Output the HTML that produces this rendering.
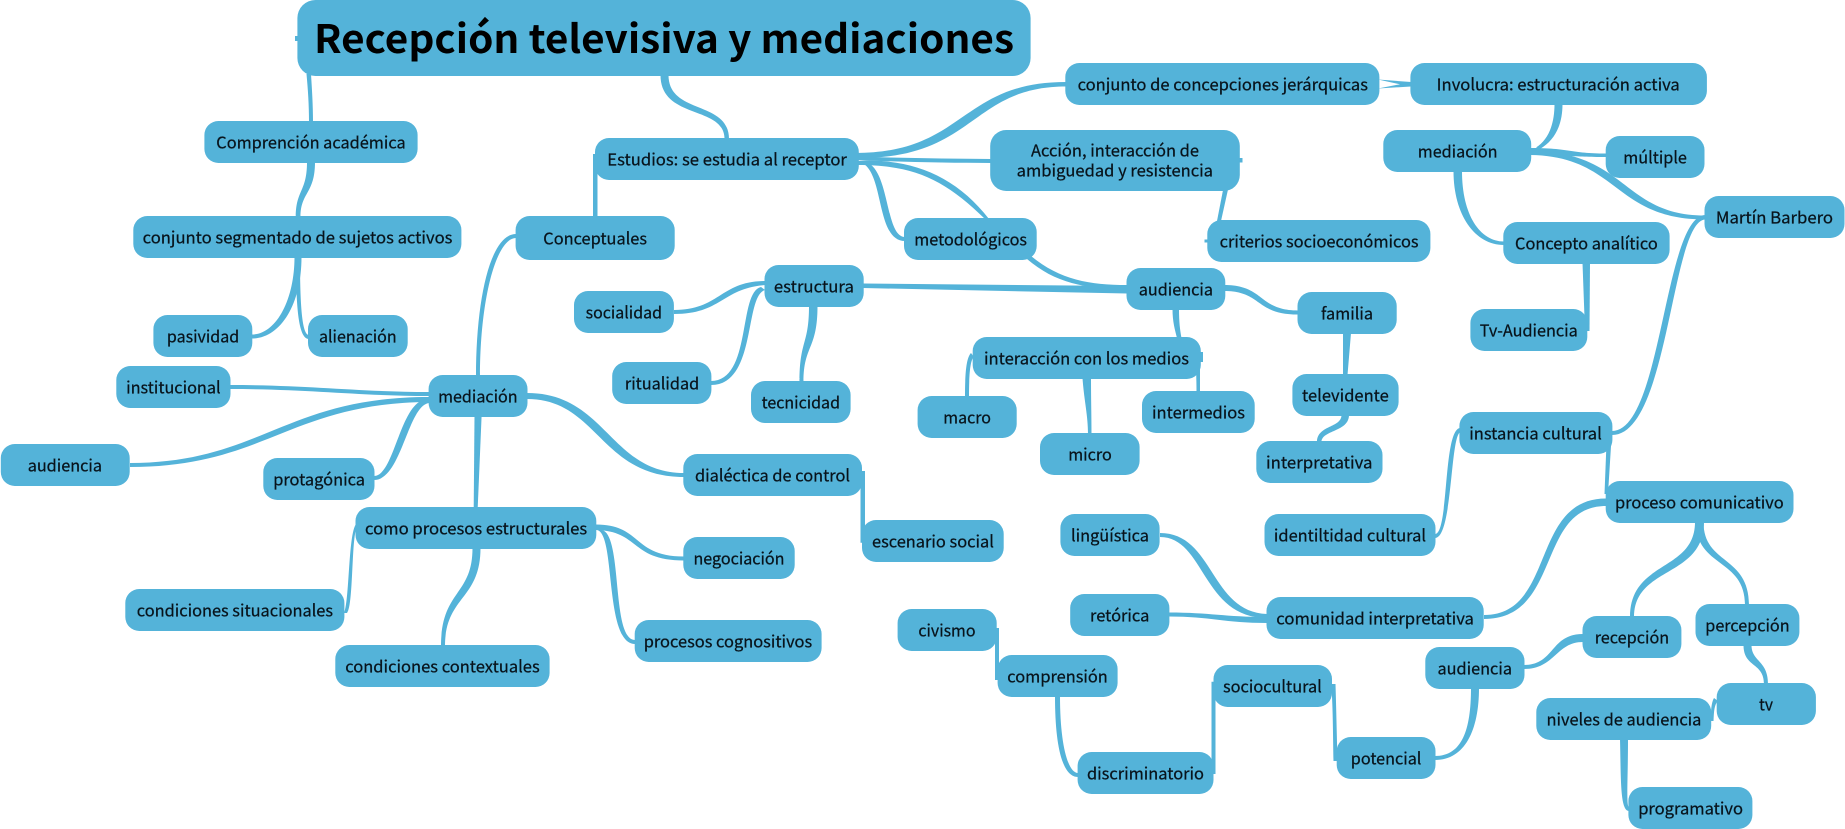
<!DOCTYPE html>
<html lang="es"><head><meta charset="utf-8"><title>Recepción televisiva y mediaciones</title>
<style>
html,body{margin:0;padding:0;background:#fff;width:1845px;height:829px;overflow:hidden}
svg{display:block}
.l{fill:#54b3d9}
rect{fill:#54b3d9}
text{font-family:"Noto Sans CJK JP","DejaVu Sans",sans-serif;font-size:16.5px;fill:#08131b;stroke:#08131b;stroke-width:.25px}
.t{font-size:39px;font-weight:bold;fill:#000;stroke:none}
</style></head><body>
<svg xmlns="http://www.w3.org/2000/svg" width="1845" height="829" viewBox="0 0 1845 829">
<g class="l">
<path d="M306.5,74C308,90 309,105 309,122L313,122C313,105 312,90 311,74Z"/>
<path d="M307,162C307,192 295.8,190 295.8,217L300.5,217C300.5,192 315,194 315,162Z"/>
<path d="M301.5,257C301.5,305 280,338.5 252,338.5L252,334.5C276,334.5 294.5,300 294.5,257Z"/>
<path d="M296,257C296,305 298,339 309,339L309,335C302,335 300,305 300,257Z"/>
<path d="M476,376C476,300 490,234 516,234L516,238C496,238 480,300 480,376Z"/>
<path d="M593,154H597.5V217H593Z"/>
<path d="M660.5,75C660.5,120 724.5,105 724.5,139L729,139C729,100 668.5,115 668.5,75Z"/>
<path d="M855,153C965,153 960,82 1066,82L1066,86.5C970,86.5 975,160 855,158Z"/>
<path d="M855,156.5C900,158 950,158.5 991,159L991,163C950,163 900,162 855,160Z"/>
<path d="M858,161C910,158 955,175 989,219L985,219C945,180 915,165 858,165Z"/>
<path d="M860,162C885,170 875,241 905,241L905,237C885,237 890,170 866,162Z"/>
<path d="M1031,256C1060,280 1090,285 1127,285L1127,289C1085,289 1055,283 1027,259Z"/>
<path d="M863,283.5L1127,286L1127,293.5L863,288Z"/>
<path d="M1224,285C1265,285 1258,310.5 1298,310.5L1298,314.5C1255,314.5 1262,291 1224,291Z"/>
<path d="M1172.5,309C1172.5,322 1175,330 1177,338L1181.5,338C1180,330 1179,322 1179,309Z"/>
<path d="M766,281C720,281 720,310 674,310L674,314C722,314 722,288 766,285Z"/>
<path d="M761,287C738,292 752,381 711,381L711,385C757,385 744,296 765,290Z"/>
<path d="M809,306C809,345 799.5,340 799.5,382L803.5,382C803.5,345 817.5,350 817.5,306Z"/>
<path d="M971,353C966,358 965,375 965,397L969,397C969,375 970,360 974,357Z"/>
<path d="M1082.5,378C1084,400 1088,415 1088,434L1091.5,434C1091.5,415 1091,400 1091,378Z"/>
<path d="M1196,357C1196,370 1196.5,380 1196.5,392L1200,392C1200,380 1200,370 1200,357Z"/>
<path d="M1198,352H1203V362H1198Z"/>
<path d="M1224,185L1217,221L1221,221L1229,185Z"/>
<path d="M1204.5,239.5H1209V242.5H1204.5Z"/>
<path d="M1238,158H1242.5V162.5H1238Z"/>
<path d="M1378,79.5L1411,82L1411,86.5L1378,88.5L1400,84.3Z"/>
<path d="M1554.5,104C1554.5,125 1548,140 1536,147.5L1540,149C1555,140 1562.5,125 1562.5,104Z"/>
<path d="M1530,148C1570,148 1570,153.5 1606,153.5L1606,157C1570,157 1570,155 1530,154Z"/>
<path d="M1530,151C1627,151 1622,215.5 1705,215.5L1705,219.5C1614,219.5 1618,156 1530,155Z"/>
<path d="M1453.5,171C1453.5,215 1475,245 1504,245L1504,241.5C1480,241.5 1462,215 1462,171Z"/>
<path d="M1582.5,263L1585,331L1589.5,331L1590,263Z"/>
<path d="M1343,333L1343,375L1347.5,375L1351,333Z"/>
<path d="M1341.5,415C1341.5,428 1317,425 1317,442L1321.5,442C1321.5,430 1349,432 1349,415Z"/>
<path d="M1705,215C1664,217 1662,431 1612,431L1612,435C1669,435 1671,222 1705,219.5Z"/>
<path d="M1607,430L1604.5,494L1608,494L1612,430Z"/>
<path d="M1460,428C1443,430 1449,534 1435,534L1435,538C1453,538 1450,432 1461,432Z"/>
<path d="M1606,498.5C1530,498.5 1556,615 1484,615L1484,619C1562,619 1536,506 1606,506Z"/>
<path d="M1695,522C1695,572 1630,560 1630,617L1634,617C1634,566 1704,578 1704,522Z"/>
<path d="M1696,522C1696,568 1745,558 1745,605L1749,605C1749,555 1703.5,565 1703.5,522Z"/>
<path d="M1743.5,645C1743.5,668 1764,662 1764,684L1768,684C1768,660 1751.5,662 1751.5,645Z"/>
<path d="M1714,698C1711,703 1711,712 1710.5,721L1713.5,721C1714,712 1714,705 1718,701Z"/>
<path d="M1620,739C1621,780 1620,811 1629,811L1629,807C1626,807 1628,780 1628,739Z"/>
<path d="M1267,614C1210,612 1214,533 1160,533L1160,537C1205,537 1202,618 1267,618Z"/>
<path d="M1267,617C1225,617 1210,612.5 1169,612.5L1169,616.5C1210,616.5 1225,623 1267,623Z"/>
<path d="M1524,665C1555,665 1550,634 1583,634L1583,642C1556,642 1555,669 1524,669Z"/>
<path d="M1471,688C1471,730 1462,756 1435,756L1435,760C1465,760 1479,730 1479,688Z"/>
<path d="M1331,684C1333,700 1333,740 1333.5,761L1337.5,761C1337,740 1336,700 1335.5,684Z"/>
<path d="M1211.5,681.7H1215.5V774H1211.5Z"/>
<path d="M1055,696C1055,745 1062,777 1078,777L1078,773C1068,773 1060,745 1060,696Z"/>
<path d="M995,628H999V680H995Z"/>
<path d="M860.5,471H865V542.7H860.5Z"/>
<path d="M527,393C606,393 610,473 684,473L684,477C600,477 598,399 527,399Z"/>
<path d="M596,524.5C642,524.5 632,556.5 684,556.5L684,560.5C630,560.5 640,531 596,530Z"/>
<path d="M597,530C616,533 604,644 635,644L635,640C611,640 623,535 602,530Z"/>
<path d="M358,523C348,523 350,600 344,613L347,613C354,605 351,527 358,527Z"/>
<path d="M472.5,548C472.5,596 441,590 441,646L445,646C445,596 480.5,600 480.5,548Z"/>
<path d="M474.5,416L473.7,508L477.7,508L481.6,416Z"/>
<path d="M429,392C360,392 310,385 230,385L230,389C310,389 360,396 429,396Z"/>
<path d="M429,397C285,397 260,463 130,463L130,467C265,467 290,403 429,402Z"/>
<path d="M428,399C400,399 395,476 374,476L374,480C402,480 408,403 430,403Z"/>
<path d="M295,36H299V41H295Z"/>
</g>
<rect x="297.4" y="0" width="733.2" height="76" rx="18"/>
<rect x="204.4" y="121" width="213.2" height="42" rx="14"/>
<rect x="133.3" y="216" width="328.1" height="42" rx="14"/>
<rect x="153.4" y="315" width="98.9" height="42" rx="14"/>
<rect x="308" y="315" width="99.7" height="42" rx="14"/>
<rect x="116.3" y="366" width="114.2" height="42" rx="14"/>
<rect x="428.6" y="375" width="98.9" height="42" rx="14"/>
<rect x="515.6" y="216" width="159.1" height="44" rx="14"/>
<rect x="595" y="138" width="263.8" height="42" rx="14"/>
<rect x="574" y="291" width="99.9" height="42" rx="14"/>
<rect x="904" y="218" width="132.7" height="42" rx="14"/>
<rect x="1065.3" y="63" width="314.1" height="42" rx="14"/>
<rect x="990.2" y="130" width="249.6" height="61" rx="16"/>
<rect x="1207.3" y="220" width="223.1" height="42" rx="14"/>
<rect x="764.5" y="265" width="99.2" height="42" rx="14"/>
<rect x="612.2" y="362" width="99.2" height="42" rx="14"/>
<rect x="751" y="381" width="99.6" height="42" rx="14"/>
<rect x="1126.5" y="268" width="98.8" height="42" rx="14"/>
<rect x="972.7" y="337" width="228.1" height="42" rx="14"/>
<rect x="917.6" y="396" width="99.1" height="42" rx="14"/>
<rect x="1040" y="433" width="99.6" height="42" rx="14"/>
<rect x="1142" y="391" width="112.7" height="42" rx="14"/>
<rect x="1297.5" y="292" width="99.2" height="42" rx="14"/>
<rect x="1292.4" y="374" width="106.2" height="42" rx="14"/>
<rect x="1410.4" y="63" width="296.5" height="42" rx="14"/>
<rect x="1383.3" y="130" width="147.9" height="42" rx="14"/>
<rect x="1605.7" y="136" width="98.8" height="42" rx="14"/>
<rect x="1704.5" y="196" width="140" height="42" rx="14"/>
<rect x="1503.3" y="222" width="166.3" height="42" rx="14"/>
<rect x="1470.4" y="309" width="116.9" height="42" rx="14"/>
<rect x="1256.3" y="441" width="126.2" height="42" rx="14"/>
<rect x="1459.4" y="412" width="153" height="42" rx="14"/>
<rect x="1605.7" y="481" width="187.8" height="42" rx="14"/>
<rect x="1264.5" y="514" width="171" height="42" rx="14"/>
<rect x="1266.5" y="597" width="217.2" height="42" rx="14"/>
<rect x="1582.5" y="616" width="98.9" height="42" rx="14"/>
<rect x="1695.5" y="604" width="103.9" height="42" rx="14"/>
<rect x="1425.3" y="647" width="99.2" height="42" rx="14"/>
<rect x="1716.7" y="683" width="99.2" height="42" rx="14"/>
<rect x="1536.3" y="698" width="174.9" height="42" rx="14"/>
<rect x="1628.4" y="787" width="124" height="42" rx="14"/>
<rect x="1213.5" y="665" width="118.5" height="42" rx="14"/>
<rect x="1336.7" y="737" width="98.8" height="42" rx="14"/>
<rect x="0.8" y="444" width="128.9" height="42" rx="14"/>
<rect x="263.3" y="458" width="111.2" height="42" rx="14"/>
<rect x="355.5" y="507" width="240.8" height="42" rx="14"/>
<rect x="125.3" y="589" width="219.1" height="42" rx="14"/>
<rect x="335.3" y="645" width="214.3" height="42" rx="14"/>
<rect x="683.3" y="454" width="178.7" height="42" rx="14"/>
<rect x="862" y="520" width="141.7" height="42" rx="14"/>
<rect x="683.3" y="537" width="111.4" height="42" rx="14"/>
<rect x="634.7" y="620" width="186.9" height="42" rx="14"/>
<rect x="897.6" y="609" width="99.1" height="42" rx="14"/>
<rect x="997.6" y="655" width="120" height="42" rx="14"/>
<rect x="1077.6" y="752" width="135.9" height="42" rx="14"/>
<rect x="1060.4" y="514" width="99.2" height="42" rx="14"/>
<rect x="1070.2" y="594" width="99.2" height="42" rx="14"/>
<text class="t" x="314" y="53.2" textLength="700" lengthAdjust="spacingAndGlyphs">Recepción televisiva y mediaciones</text>
<g transform="translate(0,.6)">
<text x="216.3" y="147.7" textLength="189.4" lengthAdjust="spacingAndGlyphs">Comprención académica</text>
<text x="142.7" y="242.7" textLength="309.7" lengthAdjust="spacingAndGlyphs">conjunto segmentado de sujetos activos</text>
<text x="166.9" y="341.7" textLength="72.3" lengthAdjust="spacingAndGlyphs">pasividad</text>
<text x="319" y="341.7" textLength="77.6" lengthAdjust="spacingAndGlyphs">alienación</text>
<text x="126.1" y="392.7" textLength="94.5" lengthAdjust="spacingAndGlyphs">institucional</text>
<text x="438.1" y="401.7" textLength="79.5" lengthAdjust="spacingAndGlyphs">mediación</text>
<text x="543.3" y="243.7" textLength="103.7" lengthAdjust="spacingAndGlyphs">Conceptuales</text>
<text x="607.3" y="164.7" textLength="239.6" lengthAdjust="spacingAndGlyphs">Estudios: se estudia al receptor</text>
<text x="585.6" y="317.7" textLength="76.4" lengthAdjust="spacingAndGlyphs">socialidad</text>
<text x="914.3" y="244.7" textLength="112.7" lengthAdjust="spacingAndGlyphs">metodológicos</text>
<text x="1077.6" y="89.7" textLength="290.4" lengthAdjust="spacingAndGlyphs">conjunto de concepciones jerárquicas</text>
<text x="1031" y="156" textLength="168" lengthAdjust="spacingAndGlyphs">Acción, interacción de</text>
<text x="1016.7" y="175.7" textLength="196.3" lengthAdjust="spacingAndGlyphs">ambiguedad y resistencia</text>
<text x="1219.6" y="246.7" textLength="199" lengthAdjust="spacingAndGlyphs">criterios socioeconómicos</text>
<text x="773.9" y="291.7" textLength="80" lengthAdjust="spacingAndGlyphs">estructura</text>
<text x="624.9" y="388.7" textLength="74.3" lengthAdjust="spacingAndGlyphs">ritualidad</text>
<text x="761.6" y="407.7" textLength="78.4" lengthAdjust="spacingAndGlyphs">tecnicidad</text>
<text x="1138.8" y="294.7" textLength="74.2" lengthAdjust="spacingAndGlyphs">audiencia</text>
<text x="984" y="363.7" textLength="205" lengthAdjust="spacingAndGlyphs">interacción con los medios</text>
<text x="943.3" y="422.7" textLength="47.7" lengthAdjust="spacingAndGlyphs">macro</text>
<text x="1068.2" y="459.7" textLength="43.6" lengthAdjust="spacingAndGlyphs">micro</text>
<text x="1152" y="417.7" textLength="93" lengthAdjust="spacingAndGlyphs">intermedios</text>
<text x="1321" y="318.7" textLength="52" lengthAdjust="spacingAndGlyphs">familia</text>
<text x="1302" y="400.7" textLength="86.8" lengthAdjust="spacingAndGlyphs">televidente</text>
<text x="1436.7" y="89.7" textLength="243.1" lengthAdjust="spacingAndGlyphs">Involucra: estructuración activa</text>
<text x="1417.8" y="156.7" textLength="79.7" lengthAdjust="spacingAndGlyphs">mediación</text>
<text x="1623.3" y="162.7" textLength="63.6" lengthAdjust="spacingAndGlyphs">múltiple</text>
<text x="1715.9" y="222.7" textLength="117.1" lengthAdjust="spacingAndGlyphs">Martín Barbero</text>
<text x="1515" y="248.7" textLength="142.8" lengthAdjust="spacingAndGlyphs">Concepto analítico</text>
<text x="1479.8" y="335.7" textLength="98" lengthAdjust="spacingAndGlyphs">Tv-Audiencia</text>
<text x="1266" y="467.7" textLength="106.4" lengthAdjust="spacingAndGlyphs">interpretativa</text>
<text x="1469.2" y="438.7" textLength="132.6" lengthAdjust="spacingAndGlyphs">instancia cultural</text>
<text x="1615" y="507.7" textLength="168.7" lengthAdjust="spacingAndGlyphs">proceso comunicativo</text>
<text x="1273.9" y="540.7" textLength="152.1" lengthAdjust="spacingAndGlyphs">identiltidad cultural</text>
<text x="1276.3" y="623.7" textLength="197.6" lengthAdjust="spacingAndGlyphs">comunidad interpretativa</text>
<text x="1594.7" y="642.7" textLength="74.5" lengthAdjust="spacingAndGlyphs">recepción</text>
<text x="1705.3" y="630.7" textLength="84.3" lengthAdjust="spacingAndGlyphs">percepción</text>
<text x="1437.5" y="673.7" textLength="74.5" lengthAdjust="spacingAndGlyphs">audiencia</text>
<text x="1759" y="709.7" textLength="14" lengthAdjust="spacingAndGlyphs">tv</text>
<text x="1546.5" y="724.7" textLength="154.9" lengthAdjust="spacingAndGlyphs">niveles de audiencia</text>
<text x="1638.2" y="813.7" textLength="104.8" lengthAdjust="spacingAndGlyphs">programativo</text>
<text x="1223" y="691.7" textLength="98.8" lengthAdjust="spacingAndGlyphs">sociocultural</text>
<text x="1350.8" y="763.7" textLength="70.6" lengthAdjust="spacingAndGlyphs">potencial</text>
<text x="27.7" y="470.7" textLength="74.3" lengthAdjust="spacingAndGlyphs">audiencia</text>
<text x="273.2" y="484.7" textLength="91.8" lengthAdjust="spacingAndGlyphs">protagónica</text>
<text x="365" y="533.7" textLength="222.2" lengthAdjust="spacingAndGlyphs">como procesos estructurales</text>
<text x="136.8" y="615.7" textLength="196.2" lengthAdjust="spacingAndGlyphs">condiciones situacionales</text>
<text x="345.2" y="671.7" textLength="194.5" lengthAdjust="spacingAndGlyphs">condiciones contextuales</text>
<text x="695" y="480.7" textLength="155" lengthAdjust="spacingAndGlyphs">dialéctica de control</text>
<text x="872" y="546.7" textLength="121.9" lengthAdjust="spacingAndGlyphs">escenario social</text>
<text x="693.5" y="563.7" textLength="91" lengthAdjust="spacingAndGlyphs">negociación</text>
<text x="643.7" y="646.7" textLength="168.5" lengthAdjust="spacingAndGlyphs">procesos cognositivos</text>
<text x="918.4" y="635.7" textLength="57.1" lengthAdjust="spacingAndGlyphs">civismo</text>
<text x="1007.3" y="681.7" textLength="100.5" lengthAdjust="spacingAndGlyphs">comprensión</text>
<text x="1087" y="778.7" textLength="117" lengthAdjust="spacingAndGlyphs">discriminatorio</text>
<text x="1071" y="540.7" textLength="78" lengthAdjust="spacingAndGlyphs">lingüística</text>
<text x="1090" y="620.7" textLength="59.4" lengthAdjust="spacingAndGlyphs">retórica</text>
</g>
</svg>
</body></html>
